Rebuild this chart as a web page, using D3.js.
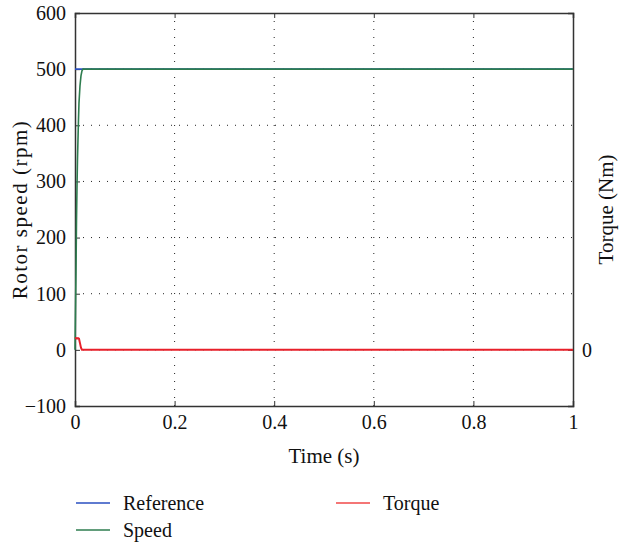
<!DOCTYPE html>
<html>
<head>
<meta charset="utf-8">
<script src="https://cdn.jsdelivr.net/npm/d3@7"></script>
<style>
  html, body { margin: 0; padding: 0; background: #fff; }
</style>
</head>
<body>
<svg id="chart" width="620" height="546"></svg>
<script>
// Time axis (s) and speed axis (rpm) ticks
const timeTicks = [0, 0.2, 0.4, 0.6, 0.8, 1];
const speedTicks = [-100, 0, 100, 200, 300, 400, 500, 600];
const torqueTicks = [0];

// Reference speed command (rpm)
const refTime = [0, 1];
const refSpeed = [500, 500];

// Measured rotor speed (rpm)
const speedTime = [0, 0.001, 0.002, 0.003, 0.004, 0.005, 0.006, 0.007, 0.008, 0.010, 0.012, 0.014, 0.016, 1];
const speedVals = [0, 70, 140, 230, 290, 340, 375, 410, 440, 470, 488, 497, 500, 500];

// Electromagnetic torque (Nm, drawn on the right axis)
const torqueTime = [0, 0.002, 0.004, 0.006, 0.008, 0.010, 0.012, 0.014, 1];
const torqueVals = [20, 21, 20, 21, 20, 12, 4, 0, 0];

const FONT = "Liberation Serif";
const svg = d3.select("#chart").attr("font-family", FONT);
const m = { left: 75, right: 47, top: 13, bottom: 140 };
const W = 620, H = 546;
const iw = W - m.left - m.right, ih = H - m.top - m.bottom;

const x = d3.scaleLinear().domain([0, 1]).range([m.left, m.left + iw]);
const y = d3.scaleLinear().domain([-100, 600]).range([m.top + ih, m.top]);
const yT = d3.scaleLinear().domain([-100, 600]).range([m.top + ih, m.top]);

// dotted grid
const grid = svg.append("g");
grid.selectAll("line.gx").data(timeTicks.filter(t => t > 0 && t < 1)).join("line")
  .attr("x1", d => x(d)).attr("x2", d => x(d))
  .attr("y1", m.top).attr("y2", m.top + ih)
  .attr("stroke", "#222").attr("stroke-width", 1).attr("stroke-dasharray", "1,7");
grid.selectAll("line.gy").data(speedTicks.filter(t => t > -100 && t < 600)).join("line")
  .attr("x1", m.left).attr("x2", m.left + iw)
  .attr("y1", d => y(d)).attr("y2", d => y(d))
  .attr("stroke", "#222").attr("stroke-width", 1).attr("stroke-dasharray", "1,7");

// axes with inward ticks
const fmt = d => d < 0 ? "\u2212" + Math.abs(d) : String(d);
const axB = svg.append("g").attr("transform", `translate(0,${m.top + ih})`)
  .call(d3.axisBottom(x).tickValues(timeTicks).tickSize(-5).tickPadding(9).tickFormat(d => String(d)));
const axT = svg.append("g").attr("transform", `translate(0,${m.top})`)
  .call(d3.axisTop(x).tickValues(timeTicks).tickSize(-5).tickFormat(""));
const axL = svg.append("g").attr("transform", `translate(${m.left},0)`)
  .call(d3.axisLeft(y).tickValues(speedTicks).tickSize(-5).tickPadding(9).tickFormat(fmt));
const axR = svg.append("g").attr("transform", `translate(${m.left + iw},0)`)
  .call(d3.axisRight(yT).tickValues(torqueTicks).tickSize(-5).tickPadding(9).tickFormat(d => String(d)));
[axB, axT, axL, axR].forEach(a => {
  a.attr("font-family", FONT).attr("font-size", 20);
  a.select(".domain").attr("stroke", "#333").attr("stroke-width", 1.5);
  a.selectAll(".tick line").attr("stroke", "#333");
  a.selectAll(".tick text").attr("fill", "#111");
});

// data lines
const lineOf = (xs, ys, sy) => d3.line().x((d, i) => x(xs[i])).y((d, i) => sy(ys[i]))(xs);
svg.append("path").attr("d", lineOf(refTime, refSpeed, y))
  .attr("fill", "none").attr("stroke", "#2a4fc0").attr("stroke-width", 1.6);
svg.append("path").attr("d", lineOf(speedTime, speedVals, y))
  .attr("fill", "none").attr("stroke", "#2e7d4f").attr("stroke-width", 1.6);
svg.append("path").attr("d", lineOf(torqueTime, torqueVals, yT))
  .attr("fill", "none").attr("stroke", "#e8202a").attr("stroke-width", 2);

// axis titles
const title = (s, size) => s.attr("font-family", FONT).attr("font-size", size).attr("fill", "#111");
svg.append("text").attr("x", m.left + iw / 2).attr("y", 463).attr("text-anchor", "middle")
  .call(title, 21).text("Time (s)");
svg.append("text").attr("transform", `translate(27,${m.top + ih / 2}) rotate(-90)`)
  .attr("text-anchor", "middle").attr("letter-spacing", 1.5).call(title, 21).text("Rotor speed (rpm)");
svg.append("text").attr("transform", `translate(613,${m.top + ih / 2}) rotate(-90)`)
  .attr("text-anchor", "middle").call(title, 21).text("Torque (Nm)");

// legend
const legend = [
  { name: "Reference", color: "#2a4fc0", lx: 76, ly: 503 },
  { name: "Speed", color: "#2e7d4f", lx: 76, ly: 530 },
  { name: "Torque", color: "#f04848", lx: 336, ly: 503 }
];
const lg = svg.append("g").selectAll("g").data(legend).join("g");
lg.append("line").attr("x1", d => d.lx).attr("x2", d => d.lx + 34)
  .attr("y1", d => d.ly).attr("y2", d => d.ly)
  .attr("stroke", d => d.color).attr("stroke-width", 1.5);
lg.append("text").attr("x", d => d.lx + 47).attr("y", d => d.ly + 7)
  .call(title, 20).text(d => d.name);
</script>
</body>
</html>
